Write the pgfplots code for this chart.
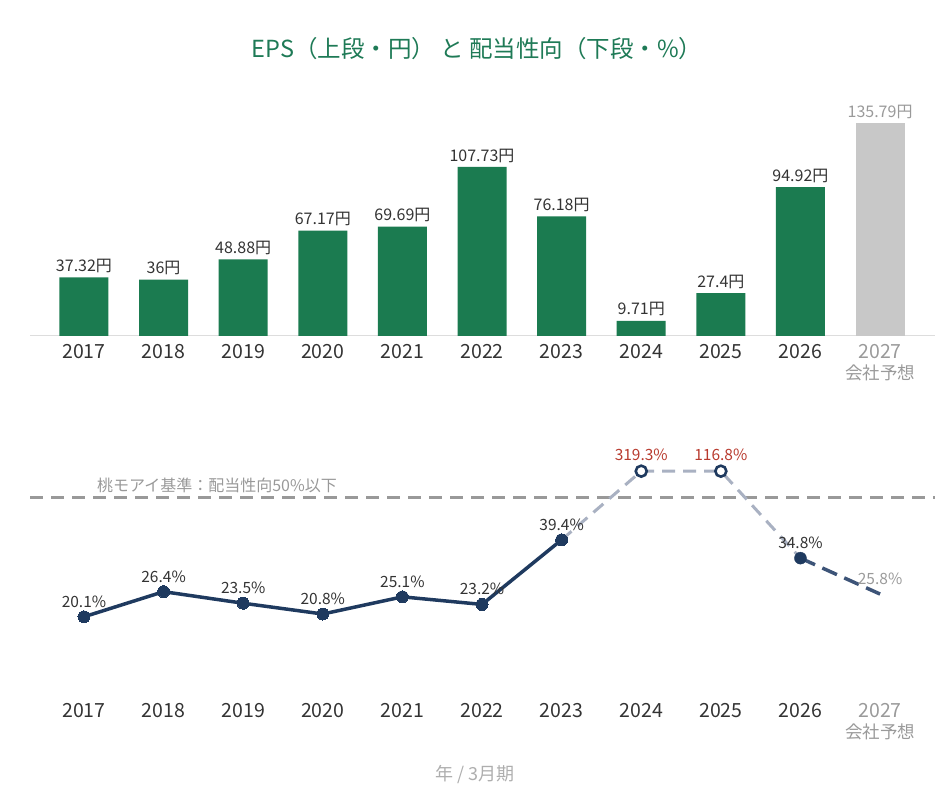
\documentclass[border=0pt]{standalone}
\usepackage{fontspec}
\setmainfont{Noto Sans CJK JP}
\usepackage{pgfplots}
\usepackage{pgfplotstable}
\pgfplotsset{compat=1.18}

\definecolor{barGreen}{HTML}{1B7B50}
\definecolor{titleGreen}{HTML}{1E7A56}
\definecolor{futureGray}{HTML}{C8C8C8}
\definecolor{navy}{HTML}{1F3A5F}
\definecolor{paleLine}{HTML}{A9B1C2}
\definecolor{midNavy}{HTML}{3D5478}
\definecolor{warnRed}{HTML}{B83A2E}
\definecolor{txt}{HTML}{333333}
\definecolor{muted}{HTML}{9A9A9A}
\definecolor{refGray}{HTML}{999999}
\definecolor{baseGray}{HTML}{DDDDDD}

% EPS (yen), fiscal years ending March; index 0 = 2017
\pgfplotstableread{
i v
0 37.32
1 36
2 48.88
3 67.17
4 69.69
5 107.73
6 76.18
7 9.71
8 27.4
9 94.92
}\epsactual
\pgfplotstableread{
i v
10 135.79
}\epsforecast

% payout ratio (%)
\pgfplotstableread{
i v
0 20.1
1 26.4
2 23.5
3 20.8
4 25.1
5 23.2
6 39.4
}\payoutsolid
\pgfplotstableread{
i v
6 39.4
7 319.3
8 116.8
9 34.8
}\payoutloss
\pgfplotstableread{
i v
7 319.3
8 116.8
}\payoutover
\pgfplotstableread{
i v
9 34.8
10 25.8
}\payoutplan

\pgfplotsset{
  yearaxis/.style={
    scale only axis, width=905pt,
    xmin=-0.678, xmax=10.69,
    clip=false,
    axis y line=none,
    axis x line*=bottom,
    ytick=\empty,
    xtick={0,...,10},
    major tick length=0pt,
    xticklabels={2017,2018,2019,2020,2021,2022,2023,2024,2025,2026,
      {\textcolor{muted}{2027}\\\textcolor{muted}{\fontsize{17.5}{21}\selectfont 会社予想}}},
    xticklabel style={font=\fontsize{19.5}{21}\selectfont, text=txt, align=center},
  },
}

\begin{document}
\begin{tikzpicture}[x=1pt,y=1pt]

% title
\node[font=\fontsize{23.5}{26}\selectfont, text=titleGreen] at (477,751)
  {EPS（上段・円） と 配当性向（下段・\%）};

% EPS bars
\begin{axis}[yearaxis,
  at={(30pt,464pt)}, anchor=south west,
  height=235.35pt, ymin=0, ymax=150,
  x axis line style={draw=baseGray, line width=1pt, -},
  xticklabel style={yshift=-5pt},
  nodes near coords={\pgfplotspointmeta 円},
  point meta=explicit symbolic,
  every node near coord/.append style={font=\fontsize{16}{18}\selectfont, yshift=1pt},
]
\addplot[ybar, bar width=49pt, fill=barGreen, draw=none,
  every node near coord/.append style={text=txt}]
  table[x=i, y=v, meta=v] {\epsactual};
\addplot[ybar, bar width=49pt, fill=futureGray, draw=none,
  every node near coord/.append style={text=muted}]
  table[x=i, y=v, meta=v] {\epsforecast};
\end{axis}

% payout ratio line; values above the scale are held at its top
\begin{axis}[yearaxis,
  at={(30pt,103pt)}, anchor=south west,
  height=239.4pt, ymin=0, ymax=60,
  x axis line style={draw=none},
  xticklabel style={yshift=-3pt},
  point meta=explicit symbolic,
  every node near coord/.append style={font=\fontsize{15.5}{17}\selectfont, yshift=6pt},
]
% 50% guideline
\draw[refGray, line width=2.2pt, dash pattern=on 13pt off 8pt]
  (axis cs:-0.678,50) -- (axis cs:10.69,50);
\node[anchor=south west, inner sep=0pt, yshift=4pt, text=refGray,
  font=\fontsize{16}{18}\selectfont] at (axis cs:0.163,50)
  {桃モアイ基準：配当性向50\%以下};

\addplot[paleLine, line width=3pt, dash pattern=on 13pt off 8pt,
  y filter/.expression={min(y,56.6)}]
  table[x=i, y=v] {\payoutloss};
\addplot[midNavy, line width=3.5pt, dash pattern=on 16pt off 8pt]
  table[x=i, y=v] {\payoutplan};

\addplot[navy, line width=3.5pt, mark=*, mark size=6pt,
  mark options={solid, fill=navy, draw=navy, line width=0pt},
  nodes near coords={\pgfplotspointmeta\%},
  every node near coord/.append style={text=txt}]
  table[x=i, y=v, meta=v] {\payoutsolid};

\addplot[only marks, mark=*, mark size=6pt,
  mark options={fill=navy, draw=navy},
  nodes near coords={\pgfplotspointmeta\%},
  every node near coord/.append style={text=txt}]
  table[x=i, y=v, meta=v] {
i v
9 34.8
};

\addplot[only marks, mark=*, mark size=5.5pt,
  mark options={fill=white, draw=navy, line width=2.6pt},
  y filter/.expression={min(y,56.6)},
  nodes near coords={\pgfplotspointmeta\%},
  every node near coord/.append style={text=warnRed}]
  table[x=i, y=v, meta=v] {\payoutover};

\addplot[draw=none, mark=none,
  nodes near coords={\pgfplotspointmeta\%},
  every node near coord/.append style={text=muted}]
  table[x=i, y=v, meta=v] {
i v
10 25.8
};
\end{axis}

% axis caption
\node[font=\fontsize{18}{20}\selectfont, text=muted!80] at (475,25) {年 / 3月期};

\pgfresetboundingbox
\path[use as bounding box] (0,0) rectangle (950,800);
\end{tikzpicture}
\end{document}
